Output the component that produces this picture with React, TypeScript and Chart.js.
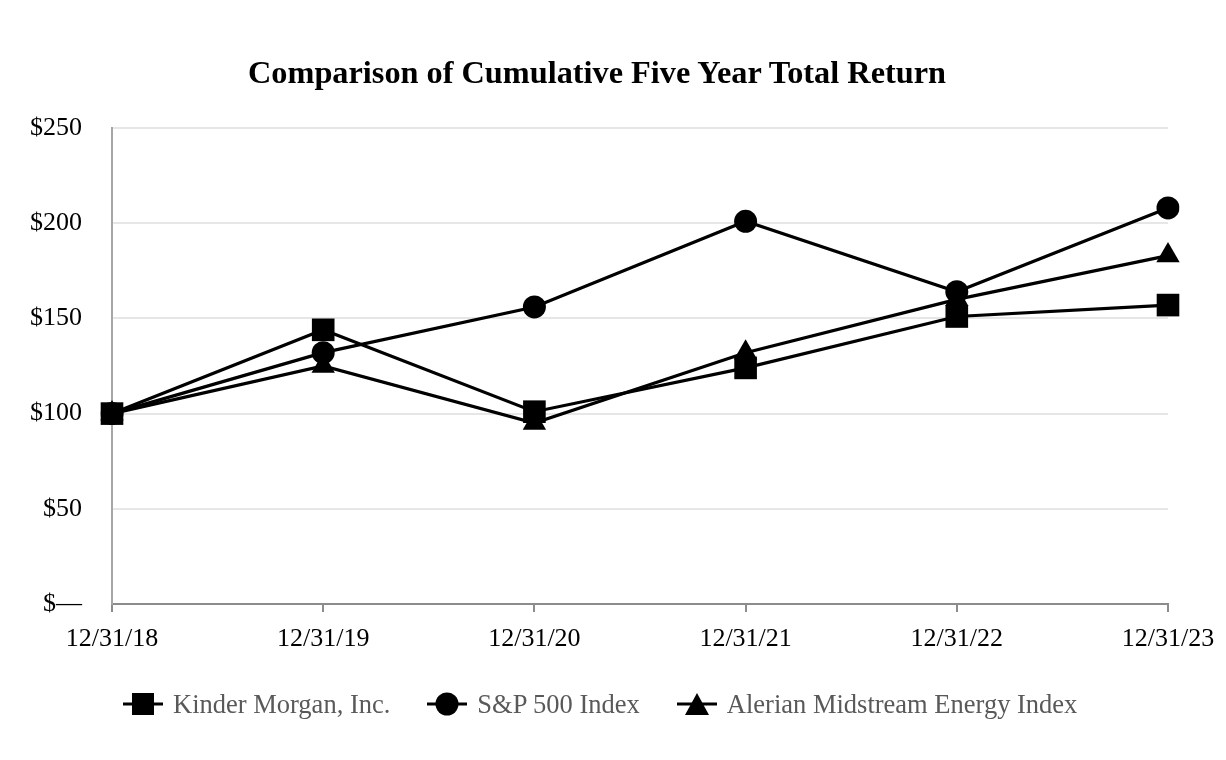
import React, { useEffect, useRef } from "react";
import { Chart, registerables } from "chart.js";

Chart.register(...registerables);

const categories = ["12/31/18", "12/31/19", "12/31/20", "12/31/21", "12/31/22", "12/31/23"];
const kinderMorgan = [100, 144, 101, 124, 151, 157];
const sp500 = [100, 132, 156, 201, 164, 208];
const alerian = [100, 125, 95, 132, 160, 183];
const seriesNames = ["Kinder Morgan, Inc.", "S&P 500 Index", "Alerian Midstream Energy Index"];
const yTicks = [0, 50, 100, 150, 200, 250];
const titleText = "Comparison of Cumulative Five Year Total Return";

const SERIF = "'Liberation Serif', 'Times New Roman', serif";
const styles = ["rect", "circle", "triangle"];

function LegendIcon({ kind }: { kind: string }) {
  return (
    <svg width={40} height={26} style={{ display: "block" }}>
      <line x1={0} y1={13} x2={40} y2={13} stroke="#000" strokeWidth={3} />
      {kind === "rect" && <rect x={9} y={2} width={22} height={22} fill="#000" />}
      {kind === "circle" && <circle cx={20} cy={13} r={11.5} fill="#000" />}
      {kind === "triangle" && <polygon points="20,2 32,24 8,24" fill="#000" />}
    </svg>
  );
}

export default function App() {
  const ref = useRef<HTMLCanvasElement | null>(null);
  useEffect(() => {
    document.body.style.margin = "0";
    const radii = [16, 11.5, 13.5];
    const datas = [kinderMorgan, sp500, alerian];
    const chart = new Chart(ref.current!, {
      type: "line",
      data: {
        labels: categories,
        datasets: datas.map((d, i) => ({
          label: seriesNames[i],
          data: d,
          borderColor: "#000",
          backgroundColor: "#000",
          borderWidth: 3.2,
          pointStyle: styles[i] as any,
          pointRadius: radii[i],
          pointBackgroundColor: "#000",
          pointBorderColor: "#000",
          pointBorderWidth: 0,
          tension: 0,
        })),
      },
      options: {
        animation: false,
        responsive: false,
        maintainAspectRatio: false,
        layout: { padding: { top: 128, left: 0, right: 58, bottom: 94 } },
        plugins: {
          title: { display: false },
          legend: { display: false },
          tooltip: { enabled: false },
        },
        scales: {
          x: {
            type: "category",
            offset: false,
            grid: {
              display: true,
              drawOnChartArea: false,
              drawTicks: true,
              tickLength: 8,
              color: "#8c8c8c",
              lineWidth: 2,
            },
            border: { display: true, color: "#8c8c8c", width: 2 },
            ticks: {
              color: "#000",
              font: { family: SERIF, size: 26 },
              padding: 11.4,
              maxRotation: 0,
              autoSkip: false,
            },
          },
          y: {
            min: 0,
            max: 250,
            afterBuildTicks: (axis: any) => {
              axis.ticks = yTicks.map((v) => ({ value: v }));
            },
            grid: {
              color: "#e6e6e6",
              lineWidth: 2,
              drawTicks: false,
            },
            border: { display: true, color: "#a6a6a6", width: 2 },
            ticks: {
              color: "#000",
              font: { family: SERIF, size: 26 },
              padding: 30,
              callback: (v: any) => (Number(v) === 0 ? "$\u2014" : "$" + v),
            },
          },
        },
      },
    });
    return () => chart.destroy();
  }, []);
  return (
    <div style={{ position: "relative", width: 1226, height: 760, background: "#fff" }}>
      <canvas ref={ref} width={1226} height={760} style={{ display: "block" }} />
      <div
        style={{
          position: "absolute",
          left: 0,
          width: 1194,
          top: 52.5,
          textAlign: "center",
          fontFamily: SERIF,
          fontSize: 32.3,
          fontWeight: "bold",
          lineHeight: "38px",
          color: "#000",
          whiteSpace: "nowrap",
        }}
      >
        {titleText}
      </div>
      <div
        style={{
          position: "absolute",
          left: 123,
          top: 691,
          height: 26,
          display: "flex",
          alignItems: "center",
          fontFamily: SERIF,
          fontSize: 26.5,
          color: "#595959",
          whiteSpace: "nowrap",
          lineHeight: "26px",
        }}
      >
        {seriesNames.map((name, i) => (
          <div key={name} style={{ display: "flex", alignItems: "center", marginRight: i < 2 ? 37 : 0 }}>
            <LegendIcon kind={styles[i]} />
            <span style={{ marginLeft: 10 }}>{name}</span>
          </div>
        ))}
      </div>
    </div>
  );
}
